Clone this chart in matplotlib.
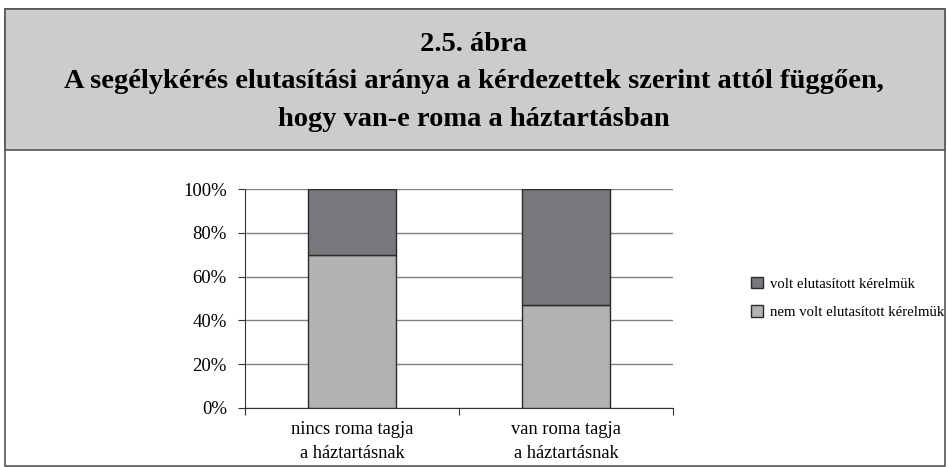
import numpy as np
import matplotlib.pyplot as plt
from matplotlib.patches import Rectangle
from matplotlib.ticker import FuncFormatter

plt.rcParams["font.family"] = ["Liberation Serif", "DejaVu Serif"]

categories = ["nincs roma tagja\na háztartásnak", "van roma tagja\na háztartásnak"]
nem_volt = [70, 47]   # nem volt elutasított kérelmük
volt = [30, 53]       # volt elutasított kérelmük
yticks = [0, 20, 40, 60, 80, 100]

title = ("2.5. ábra\nA segélykérés elutasítási aránya a kérdezettek szerint attól függően,\n"
         "hogy van-e roma a háztartásban")

fig = plt.figure(figsize=(9.48, 4.67), dpi=100)

# frame and grey header band
fig.patches.append(Rectangle((5 / 948, 0.002), 940 / 948, 1 - 9 / 467 - 0.002, transform=fig.transFigure,
                             facecolor="white", edgecolor="#555555", linewidth=1.2, zorder=-5))
fig.patches.append(Rectangle((5 / 948, 1 - 150 / 467), 940 / 948, 141 / 467, transform=fig.transFigure,
                             facecolor="#cccccc", edgecolor="#555555", linewidth=1.2, zorder=-4))
fig.text(0.5, 1 - 82 / 467, title, ha="center", va="center", fontsize=20.5, fontweight="bold",
         linespacing=1.65)

ax = fig.add_axes([245 / 948, 1 - 408 / 467, 428 / 948, 219 / 467])
ax.set_zorder(2)
ax.patch.set_alpha(0)
x = np.arange(len(categories))
w = 0.41
ax.bar(x, nem_volt, w, color="#b1b2b4", edgecolor="#2a2a2a", linewidth=1, label="nem volt elutasított kérelmük", zorder=3)
ax.bar(x, volt, w, bottom=nem_volt, color="#77787b", edgecolor="#2a2a2a", linewidth=1, label="volt elutasított kérelmük", zorder=3)

ax.set_xlim(-0.5, 1.5)
ax.set_ylim(0, 100)
ax.set_yticks(yticks)
ax.yaxis.set_major_formatter(FuncFormatter(lambda v, p: f"{v:.0f}%"))
ax.grid(axis="y", color="#808080", linewidth=1, zorder=0)
ax.set_xticks([-0.5, 0.5, 1.5])
ax.set_xticklabels([])
ax.set_xticks(x, minor=True)
ax.set_xticklabels(categories, minor=True, fontsize=13.3, linespacing=1.55)
ax.tick_params(axis="x", which="minor", length=0, pad=9)
ax.tick_params(axis="x", which="major", length=5, color="#333333")
ax.tick_params(axis="y", length=5, color="#333333", labelsize=13.5, pad=8)
for s in ["top", "right"]:
    ax.spines[s].set_visible(False)
ax.spines["left"].set_color("#333333")
ax.spines["bottom"].set_color("#333333")

h, l = ax.get_legend_handles_labels()
fig.legend(h[::-1], l[::-1], loc="center left", bbox_to_anchor=(751 / 948, 1 - 298 / 467),
           frameon=False, fontsize=10.6, handlelength=0.8,
           handleheight=0.8, handletextpad=0.5, labelspacing=1.0, borderaxespad=0, borderpad=0)

fig.savefig("out.png", dpi=100)
